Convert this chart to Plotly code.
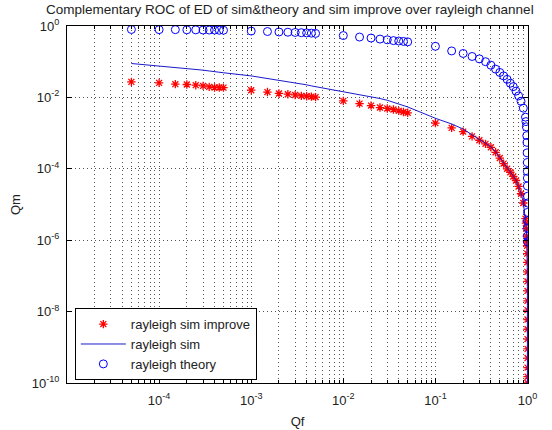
import plotly.graph_objects as go

# ---- data ----
qf = [5e-5, 1e-4, 1.5e-4, 2e-4, 2.5e-4, 3e-4, 3.5e-4, 4e-4, 4.5e-4, 5e-4,
      1e-3, 1.5e-3, 2e-3, 2.5e-3, 3e-3, 3.5e-3, 4e-3, 4.5e-3, 5e-3,
      1e-2, 1.5e-2, 2e-2, 2.5e-2, 3e-2, 3.5e-2, 4e-2, 4.5e-2, 5e-2,
      0.1, 0.15, 0.2, 0.25, 0.3, 0.35, 0.4, 0.45, 0.5, 0.55, 0.6, 0.65, 0.7,
      0.75, 0.8, 0.85, 0.9, 0.95,
      0.96, 0.97, 0.98, 0.985, 0.99, 0.993, 0.995, 0.996, 0.997, 0.998, 0.9985,
      0.999, 0.9993, 0.9995, 0.9997, 0.9998, 0.99985, 0.9999, 0.99993, 0.99995,
      0.99997, 0.99998, 0.99999, 0.999995, 0.999999]

qm_sim_improve = [0.0272, 0.0255, 0.0235, 0.0230, 0.0220, 0.0210, 0.0197, 0.0190, 0.0190, 0.0188,
                  0.0159, 0.0141, 0.0129, 0.0123, 0.0117, 0.0110, 0.0108, 0.0105, 0.0102,
                  0.0080, 0.0067, 0.0059, 0.0052, 0.0049, 0.0046, 0.0042, 0.0039, 0.0037,
                  0.0019, 0.0014, 0.0011, 8.1e-4, 6.3e-4, 5.0e-4, 4.0e-4, 2.9e-4, 2.0e-4, 1.4e-4,
                  1.0e-4, 8e-5, 6.1e-5, 4.7e-5, 3.2e-5, 2.0e-5, 1.1e-5, 4e-6,
                  3e-6, 2.1e-6, 1.3e-6, 9.5e-7, 7e-7, 4.2e-7, 2.4e-7, 1.3e-7, 7e-8, 3.8e-8, 2e-8,
                  1.1e-8, 6e-9, 3.2e-9, 1.7e-9, 9e-10, 5e-10, 2.7e-10, 1.5e-10, 1.0e-10,
                  None, None, None, None, None]

qm_sim = [0.089, 0.076, 0.071, 0.066, 0.062, 0.058, 0.055, 0.052, 0.050, 0.049,
          0.040, 0.034, 0.031, 0.028, 0.026, 0.024, 0.0225, 0.021, 0.020,
          0.0145, 0.0122, 0.0105, 0.0093, 0.0083, 0.0074, 0.0066, 0.0060, 0.0054,
          0.0026, 0.0018, 0.0013, 8.8e-4, 6.6e-4, 5.2e-4, 4.1e-4, 3.0e-4, 2.1e-4, 1.5e-4,
          1.05e-4, 8.2e-5, 6.3e-5, 4.8e-5, 3.3e-5, 2.1e-5, 1.15e-5, 4.2e-6,
          3.1e-6, 2.2e-6, 1.4e-6, 1.0e-6, 7.3e-7, 4.4e-7, 2.5e-7, 1.4e-7, 7.5e-8, 4e-8, 2.1e-8,
          1.2e-8, 6.3e-9, 3.4e-9, 1.8e-9, 9.5e-10, 5.2e-10, 2.8e-10, 1.6e-10, 1.05e-10,
          6e-11, 3e-11, 1e-11, 3e-12, 1e-12]

qm_theory = [0.80, 0.79, 0.79, 0.78, 0.78, 0.77, 0.77, 0.77, 0.76, 0.76,
             0.72, 0.70, 0.68, 0.67, 0.66, 0.65, 0.64, 0.63, 0.62,
             0.54, 0.49, 0.46, 0.43, 0.41, 0.39, 0.38, 0.37, 0.36,
             0.27, 0.20, 0.17, 0.14, 0.12, 0.10, 0.080, 0.062, 0.050, 0.040,
             0.032, 0.025, 0.020, 0.015, 0.011, 0.0078, 0.0050, 0.0028,
             0.0021, 0.0015, 8.5e-4, 5.5e-4, 2.8e-4, 1.5e-4, 8.5e-5, 5.5e-5, 3.3e-5, 1.7e-5, 1.1e-5,
             6e-6, 3.5e-6, 2.2e-6, 1.3e-6, 9e-7, None, None, None, None,
             None, None, None, None, None]

x_tickvals = [1e-4, 1e-3, 1e-2, 1e-1, 1]
x_ticktext = ["10<sup>-4</sup>", "10<sup>-3</sup>", "10<sup>-2</sup>", "10<sup>-1</sup>", "10<sup>0</sup>"]
y_tickvals = [1, 1e-2, 1e-4, 1e-6, 1e-8, 1e-10]
y_ticktext = ["10<sup>0</sup>", "10<sup>-2</sup>", "10<sup>-4</sup>", "10<sup>-6</sup>",
              "10<sup>-8</sup>", "10<sup>-10</sup>"]

title_text = "Complementary ROC of ED of sim&theory and sim improve over rayleigh channel"

# ---- figure ----
FONT = "Liberation Sans, Arial, sans-serif"
GRID = "#555555"
fig = go.Figure()
fig.add_trace(go.Scatter(x=qf, y=qm_sim_improve, mode="markers", name="rayleigh sim improve",
                         marker=dict(symbol="asterisk-open", size=7, color="red",
                                     line=dict(color="red", width=1.3))))
fig.add_trace(go.Scatter(x=qf, y=qm_sim, mode="lines", name="rayleigh sim",
                         line=dict(color="#1a1acc", width=1)))
fig.add_trace(go.Scatter(x=qf, y=qm_theory, mode="markers", name="rayleigh theory",
                         marker=dict(symbol="circle-open", size=8, color="#0000ff",
                                     line=dict(color="#0000ff", width=1))))

minor_x = [k * 10.0 ** e for e in range(-5, 0) for k in range(2, 10)]

fig.update_layout(
    width=552, height=430,
    margin=dict(l=67, r=24, t=26, b=47, autoexpand=False),
    paper_bgcolor="white", plot_bgcolor="white",
    font=dict(family=FONT, size=13, color="#222"),
    title=dict(text=title_text, x=0.525, xanchor="center", y=0.99, yanchor="top",
               font=dict(family=FONT, size=13.5, color="#222")),
    showlegend=True,
    legend=dict(x=0.017, y=0.008, xanchor="left", yanchor="bottom",
                bgcolor="white", bordercolor="black", borderwidth=1,
                font=dict(family=FONT, size=13, color="#222"),
                tracegroupgap=0, itemwidth=45),
    xaxis=dict(type="log", range=[-5, 0.005], automargin=False,
               tickmode="array", tickvals=x_tickvals, ticktext=x_ticktext,
               ticks="inside", ticklen=5, tickcolor="black", ticklabelstandoff=5,
               showline=True, linecolor="black", linewidth=1, mirror="ticks",
               showgrid=True, gridcolor=GRID, griddash="1px,3px", gridwidth=1,
               zeroline=False,
               minor=dict(tickmode="array", tickvals=minor_x, ticks="inside", ticklen=3,
                          tickcolor="black", showgrid=True, gridcolor=GRID,
                          griddash="1px,3px", gridwidth=1),
               title=dict(text="Qf", standoff=10, font=dict(size=13))),
    yaxis=dict(type="log", range=[-10, 0], automargin=False,
               tickmode="array", tickvals=y_tickvals, ticktext=y_ticktext,
               ticks="inside", ticklen=5, tickcolor="black", ticklabelstandoff=4,
               showline=True, linecolor="black", linewidth=1, mirror="ticks",
               showgrid=True, gridcolor=GRID, griddash="1px,3px", gridwidth=1,
               zeroline=False,
               title=dict(text="Qm", standoff=8, font=dict(size=13))),
)

fig.write_html("out.html", config={"displayModeBar": False},
               post_script="document.body.style.margin='0';")
